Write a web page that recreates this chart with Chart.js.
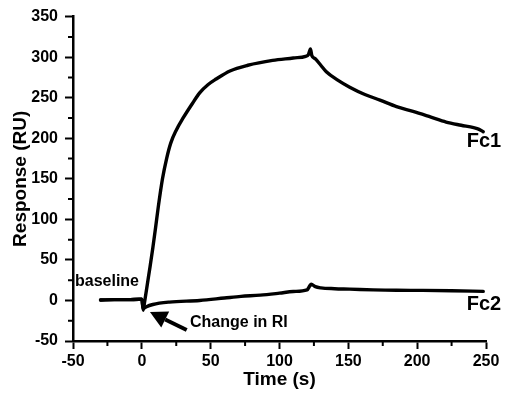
<!DOCTYPE html>
<html>
<head>
<meta charset="utf-8">
<script src="https://cdn.jsdelivr.net/npm/chart.js@4"></script>
<style>
  html, body { margin: 0; padding: 0; background: #fff; }
  #wrap { width: 505px; height: 402px; }
</style>
</head>
<body>
<div id="wrap"><canvas id="c"></canvas></div>
<script>
// sensorgram (time in s, response in RU)
const fc1Time = [-30, -20, -10, -2, 0, 1, 2, 4, 6, 8, 10, 12, 15, 18, 21, 25, 30, 36, 42, 48, 54, 64, 77, 95, 110, 119, 121, 122.5, 123.5, 126, 130, 134, 142, 151, 162, 173, 185, 197, 210, 221, 232, 241, 245, 248];
const fc1Resp = [0.5, 1, 1, 1.5, 1.5, -12, -2, 20, 42, 65, 90, 116, 150, 175, 194, 210, 225, 241, 256, 266, 273, 283, 290, 296, 299, 301, 303, 310, 302, 298, 290, 282, 272, 263, 254, 247, 239, 233, 226, 220, 216, 213, 211, 208];

const fc2Time = [-30, -20, -10, -2, 0, 1, 3, 8, 20, 42, 60, 72, 86, 100, 110, 120, 122, 123, 126, 130, 140, 151, 168, 185, 204, 225, 248];
const fc2Resp = [0.5, 1, 1, 1.5, 1.5, -10, -8, -5, -2, 0, 3, 5, 6.5, 9, 11, 13, 18, 20, 17, 15.5, 14.5, 14, 13, 12.5, 12.4, 12, 11.2];

const xMin = -50, xMax = 250, xStep = 25;
const yMin = -50, yMax = 350, yStep = 25;

// text labels placed in data units
const notes = [
    { text: "Fc1", x: 248.5, y: 196, size: 20, align: "center" },
    { text: "Fc2", x: 248.5, y: -4.7, size: 20, align: "center" },
    { text: "baseline", x: -25.3, y: 23.4, size: 16, align: "center" },
    { text: "Change in RI", x: 35, y: -26.8, size: 16, align: "left" },
];
const arrowFrom = { x: 32.6, y: -36.5 };
const arrowTo = { x: 5.9, y: -14.2 };

const FONT = "'Liberation Sans', Arial, Helvetica, sans-serif";

const toPoints = (xs, ys) => xs.map((x, i) => ({ x, y: ys[i] }));

const isMajor = v => v % 50 === 0;

const extras = {
    id: "extras",
    afterDatasetsDraw(chart) {
        const { ctx, scales: { x, y } } = chart;
        ctx.save();
        ctx.fillStyle = "#000";
        ctx.strokeStyle = "#000";
        ctx.textBaseline = "middle";
        for (const n of notes) {
            ctx.font = `bold ${n.size}px ${FONT}`;
            ctx.textAlign = n.align;
            ctx.fillText(n.text, x.getPixelForValue(n.x), y.getPixelForValue(n.y));
        }
        // arrow pointing at the RI dip
        const x0 = x.getPixelForValue(arrowFrom.x), y0 = y.getPixelForValue(arrowFrom.y);
        const x1 = x.getPixelForValue(arrowTo.x), y1 = y.getPixelForValue(arrowTo.y);
        const ang = Math.atan2(y1 - y0, x1 - x0);
        const head = 17, half = 9;
        const bx = x1 - head * Math.cos(ang), by = y1 - head * Math.sin(ang);
        ctx.lineWidth = 4;
        ctx.beginPath();
        ctx.moveTo(x0, y0);
        ctx.lineTo(bx, by);
        ctx.stroke();
        ctx.beginPath();
        ctx.moveTo(x1, y1);
        ctx.lineTo(bx + half * Math.sin(ang), by - half * Math.cos(ang));
        ctx.lineTo(bx - half * Math.sin(ang), by + half * Math.cos(ang));
        ctx.closePath();
        ctx.fill();
        ctx.restore();
    },
    afterDraw(chart) {
        // short minor ticks (major ones come from the grid)
        const { ctx, chartArea, scales: { x, y } } = chart;
        ctx.save();
        ctx.strokeStyle = "#000";
        ctx.lineWidth = 2;
        ctx.beginPath();
        for (let v = xMin; v <= xMax; v += xStep) {
            if (isMajor(v)) continue;
            const px = x.getPixelForValue(v);
            ctx.moveTo(px, chartArea.bottom);
            ctx.lineTo(px, chartArea.bottom + 5);
        }
        for (let v = yMin; v <= yMax; v += yStep) {
            if (isMajor(v)) continue;
            const py = y.getPixelForValue(v);
            ctx.moveTo(chartArea.left, py);
            ctx.lineTo(chartArea.left - 5, py);
        }
        ctx.stroke();
        ctx.restore();
    },
};

const tickFont = { family: FONT, size: 16, weight: "bold" };
const titleFont = { family: FONT, size: 19, weight: "bold" };

new Chart(document.getElementById("c"), {
    type: "line",
    data: {
        datasets: [
            { label: "Fc1", data: toPoints(fc1Time, fc1Resp) },
            { label: "Fc2", data: toPoints(fc2Time, fc2Resp) },
        ],
    },
    options: {
        responsive: true,
        maintainAspectRatio: false,
        animation: false,
        layout: { padding: { top: 13, right: 19, left: 0, bottom: 0 } },
        elements: {
            line: { borderColor: "#000", borderWidth: 3.4, cubicInterpolationMode: "monotone", borderCapStyle: "round", borderJoinStyle: "round" },
            point: { radius: 0 },
        },
        plugins: {
            legend: { display: false },
            tooltip: { enabled: false },
        },
        scales: {
            x: {
                type: "linear",
                min: xMin, max: xMax,
                afterFit: s => { s.height = 61; },
                ticks: {
                    stepSize: xStep,
                    color: "#000",
                    font: tickFont,
                    padding: 3,
                    maxRotation: 0,
                    autoSkip: false,
                    callback: v => (isMajor(v) ? v : ""),
                },
                grid: {
                    drawOnChartArea: false,
                    tickLength: 8,
                    tickWidth: 2,
                    tickColor: c => (c.tick && isMajor(c.tick.value) ? "#000" : "rgba(0,0,0,0)"),
                },
                border: { display: true, color: "#000", width: 2.5 },
                title: { display: true, text: "Time (s)", color: "#000", font: titleFont, padding: { top: 11, bottom: 11 } },
            },
            y: {
                min: yMin, max: yMax,
                afterFit: s => { s.width = 73; },
                ticks: {
                    stepSize: yStep,
                    color: "#000",
                    font: tickFont,
                    padding: 7,
                    autoSkip: false,
                    callback: v => (isMajor(v) ? v : ""),
                },
                grid: {
                    drawOnChartArea: false,
                    tickLength: 8,
                    tickWidth: 2,
                    tickColor: c => (c.tick && isMajor(c.tick.value) ? "#000" : "rgba(0,0,0,0)"),
                },
                border: { display: true, color: "#000", width: 2.5 },
                title: { display: true, text: "Response (RU)", color: "#000", font: titleFont, padding: { top: 9, bottom: 9 } },
            },
        },
    },
    plugins: [extras],
});
</script>
</body>
</html>
